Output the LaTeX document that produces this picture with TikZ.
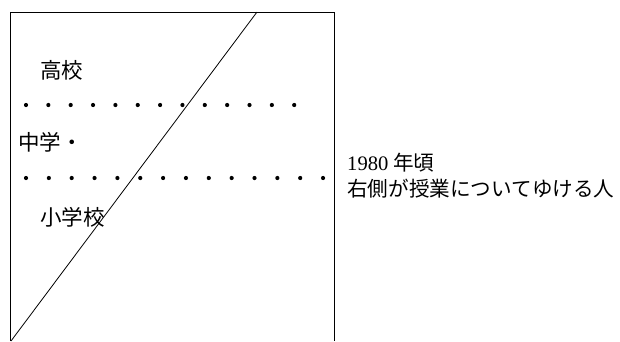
\documentclass[tikz,border=0pt]{standalone}
\usepackage{fontspec}
\setmainfont{Noto Sans CJK JP}
\newfontfamily\numfont{Liberation Serif}
\begin{document}
\begin{tikzpicture}[x=1pt,y=-1pt,
  lbl/.style={anchor=west,inner sep=0pt,font=\fontsize{21.5}{21.5}\selectfont},
  note/.style={anchor=west,inner sep=0pt,font=\fontsize{20.6}{20.6}\selectfont},
  edge/.style={draw=black,line width=0.8pt},
  dotmark/.style={fill=black}]
\useasboundingbox (0,0) rectangle (620,341);
\coordinate (bl) at (10,341);
\coordinate (tl) at (10,12);
\coordinate (tr) at (334,12);
\coordinate (br) at (334,341);
\coordinate (dtop) at (257,12);
\coordinate (dbot) at (11,341);
\draw[edge] (bl) -- (tl) -- (tr) -- (br);
\draw[edge] (dtop) -- (dbot);
\foreach \i in {0,...,12} {\fill[dotmark] (26+22.35*\i,105) circle (2.1);}
\foreach \i in {0,...,13} {\fill[dotmark] (26+22.85*\i,178) circle (2.1);}
\node[lbl] (hs) at (40,70) {高校};
\node[lbl] (ms) at (18,142) {中学・};
\node[lbl] (es) at (40,217) {小学校};
\node[note] (yr) at (347,163) {{\numfont 1980} 年頃};
\node[note] (txt) at (347,189) {右側が授業についてゆける人};
\end{tikzpicture}
\end{document}
